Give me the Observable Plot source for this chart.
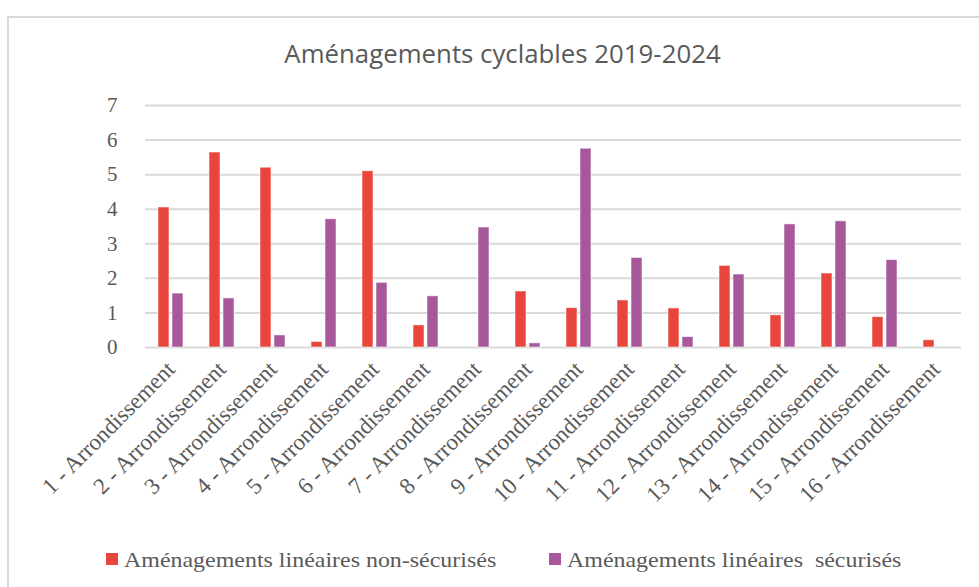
<!DOCTYPE html>
<html>
<head>
<meta charset="utf-8">
<script src="https://cdn.jsdelivr.net/npm/d3@7"></script>
<script src="https://cdn.jsdelivr.net/npm/@observablehq/plot@0.6"></script>
<style>
  html, body { margin: 0; padding: 0; background: #fff; }
  body { position: relative; width: 979px; height: 587px; overflow: hidden; }
  #frame { position: absolute; left: 7px; top: 16px; width: 1100px; height: 700px; border: 2px solid #d9d9d9; box-sizing: border-box; }
  #title { position: absolute; left: 0; top: 40px; width: 1005px; text-align: center; font-family: "Open Sans", sans-serif; font-size: 25.8px; line-height: 26px; color: #595959; white-space: nowrap; }
  #chart { position: absolute; left: 0; top: 85px; }
  .leg { position: absolute; top: 549px; height: 22px; white-space: nowrap; }
  .sw { position: absolute; top: 4px; width: 12px; height: 12px; }
  .lt { position: absolute; left: 18px; top: 0; font-family: "Liberation Serif", "Times New Roman", serif; font-size: 22px; line-height: 22px; color: #595959; display: inline-block; transform: scaleX(1.088); transform-origin: left center; }
</style>
</head>
<body>
<div id="frame"></div>
<div id="title">Aménagements cyclables 2019-2024</div>
<div id="chart"></div>
<div id="legend"></div>
<script>
const districts = [
  "1 - Arrondissement", "2 - Arrondissement", "3 - Arrondissement", "4 - Arrondissement",
  "5 - Arrondissement", "6 - Arrondissement", "7 - Arrondissement", "8 - Arrondissement",
  "9 - Arrondissement", "10 - Arrondissement", "11 - Arrondissement", "12 - Arrondissement",
  "13 - Arrondissement", "14 - Arrondissement", "15 - Arrondissement", "16 - Arrondissement"
];
const nonSecure = [4.05, 5.64, 5.20, 0.16, 5.10, 0.64, 0, 1.62, 1.14, 1.36, 1.13, 2.36, 0.93, 2.14, 0.88, 0.21];
const secure    = [1.56, 1.42, 0.35, 3.71, 1.87, 1.48, 3.47, 0.12, 5.75, 2.59, 0.30, 2.11, 3.56, 3.65, 2.53, 0];
const series = ["Aménagements linéaires non-sécurisés", "Aménagements linéaires  sécurisés"];
const colors = ["#E8453C", "#A6589B"];
const yTicks = [0, 1, 2, 3, 4, 5, 6, 7];

const data = [];
districts.forEach((d, i) => {
  data.push({district: d, series: series[0], value: nonSecure[i]});
  data.push({district: d, series: series[1], value: secure[i]});
});

const chart = Plot.plot({
  width: 979,
  height: 435,
  marginTop: 20,
  marginBottom: 173,
  marginLeft: 139,
  marginRight: 13,
  style: {fontFamily: "'Liberation Serif', 'Times New Roman', serif", color: "#595959", background: "transparent", overflow: "visible"},
  fx: {domain: districts, padding: 0, label: null},
  x: {domain: series, paddingInner: 0.207, paddingOuter: 0.886, axis: null},
  y: {domain: [0, 7], label: null},
  color: {domain: series, range: colors},
  marks: [
    Plot.ruleY(yTicks, {stroke: "#d9d9d9", strokeWidth: 2}),
    Plot.barY(data, {filter: d => d.value > 0, fx: "district", x: "series", y: "value", fill: "series", stroke: "#ffffff", strokeOpacity: 0.55, strokeWidth: 1}),
    Plot.axisY({ticks: yTicks, tickFormat: d3.format("d"), tickSize: 0, tickPadding: 28, fontSize: 21, label: null, anchor: "left", fill: "#595959"}),
    Plot.axisFx({tickRotate: -45, tickSize: 0, tickPadding: 18, dx: 0, fontSize: 23, label: null, anchor: "bottom", fill: "#595959"})
  ]
});
document.getElementById("chart").appendChild(chart);

const legend = document.getElementById("legend");
const legLeft = [106, 549];
series.forEach((s, i) => {
  const item = document.createElement("div");
  item.className = "leg";
  item.style.left = legLeft[i] + "px";
  const sw = document.createElement("span");
  sw.className = "sw";
  sw.style.background = colors[i];
  const t = document.createElement("span");
  t.className = "lt";
  t.textContent = s;
  t.style.whiteSpace = "pre";
  item.appendChild(sw);
  item.appendChild(t);
  legend.appendChild(item);
});
</script>
</body>
</html>
